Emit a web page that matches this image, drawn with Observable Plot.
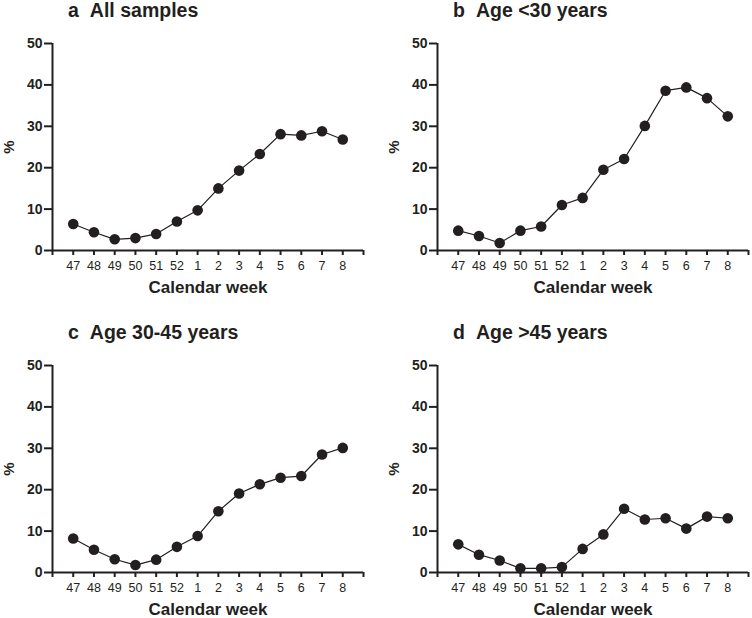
<!DOCTYPE html>
<html>
<head>
<meta charset="utf-8">
<script src="https://cdn.jsdelivr.net/npm/d3@7"></script>
<script src="https://cdn.jsdelivr.net/npm/@observablehq/plot@0.6"></script>
<style>
  html, body { margin: 0; padding: 0; background: #fff; }
  body { width: 752px; height: 618px; position: relative; overflow: hidden; font-family: "Liberation Sans", Arial, sans-serif; }
  .title { position: absolute; font-size: 19.5px; font-weight: bold; line-height: 18px; color: #231f20; white-space: pre; }
  .title .rest { margin-left: 11px; }
  .panel { position: absolute; }
  .panel svg { overflow: visible; }
  .panel g[aria-label="y-axis tick label"] { font-size: 14px; font-weight: bold; }
  .panel g[aria-label="x-axis tick label"] { font-size: 12.5px; }
</style>
</head>
<body>
<script>
const weeks = ["47", "48", "49", "50", "51", "52", "1", "2", "3", "4", "5", "6", "7", "8"];
const allSamples = [6.4, 4.4, 2.7, 3.0, 4.0, 7.0, 9.7, 15.0, 19.3, 23.3, 28.1, 27.8, 28.8, 26.8];
const ageUnder30 = [4.8, 3.5, 1.8, 4.8, 5.8, 11.0, 12.7, 19.5, 22.1, 30.1, 38.6, 39.4, 36.8, 32.4];
const age30to45 = [8.2, 5.5, 3.2, 1.8, 3.1, 6.2, 8.8, 14.8, 19.1, 21.3, 22.9, 23.3, 28.5, 30.1];
const ageOver45 = [6.8, 4.3, 2.9, 1.0, 1.0, 1.3, 5.7, 9.2, 15.4, 12.8, 13.1, 10.6, 13.5, 13.1];
const yTicks = [0, 10, 20, 30, 40, 50];
const panelLetters = ["a", "b", "c", "d"];
const panelTitles = ["All samples", "Age <30 years", "Age 30-45 years", "Age >45 years"];
const series = [allSamples, ageUnder30, age30to45, ageOver45];

const ink = "#231f20";
const font = "Liberation Sans, Arial, sans-serif";
const positions = [
  {left: 0, top: 0}, {left: 385, top: 0},
  {left: 0, top: 322}, {left: 385, top: 322}
];

series.forEach((vals, k) => {
  const pos = positions[k];
  const data = vals.map((v, i) => ({idx: i + 1, week: weeks[i], value: v}));

  const t = document.createElement("div");
  t.className = "title";
  t.style.left = (pos.left + 68) + "px";
  t.style.top = (pos.top + 1) + "px";
  const l = document.createElement("span");
  l.textContent = panelLetters[k];
  const r = document.createElement("span");
  r.className = "rest";
  r.textContent = panelTitles[k];
  t.appendChild(l);
  t.appendChild(r);
  document.body.appendChild(t);

  const chart = Plot.plot({
    width: 367,
    height: 270,
    marginLeft: 52,
    marginRight: 4,
    marginTop: 13,
    marginBottom: 50,
    style: {fontFamily: font, color: ink, background: "transparent", overflow: "visible"},
    x: {type: "linear", domain: [0, weeks.length + 1]},
    y: {type: "linear", domain: [0, 50]},
    marks: [
      Plot.axisX({
        ticks: d3.range(0, weeks.length + 2),
        tickFormat: i => (i >= 1 && i <= weeks.length) ? weeks[i - 1] : "",
        tickSize: 5, tickPadding: 6, strokeWidth: 2, stroke: ink,
        fill: ink, fontSize: 12.5, label: null
      }),
      Plot.axisY({
        ticks: yTicks, tickSize: 8, tickPadding: 2, strokeWidth: 2, stroke: ink,
        fill: ink, fontSize: 14, fontWeight: "bold", label: null
      }),
      Plot.ruleY([0], {stroke: ink, strokeWidth: 2}),
      Plot.ruleX([0], {stroke: ink, strokeWidth: 2}),
      Plot.line(data, {x: "idx", y: "value", stroke: ink, strokeWidth: 1.2}),
      Plot.dot(data, {x: "idx", y: "value", r: 5.3, fill: ink, stroke: "none"}),
      Plot.text(["Calendar week"], {
        frameAnchor: "bottom", dy: 37, lineAnchor: "middle", textAnchor: "middle",
        fontSize: 17, fontWeight: "bold", fill: ink
      }),
      Plot.text(["%"], {
        frameAnchor: "left", dx: -43, rotate: -90, lineAnchor: "middle", textAnchor: "middle",
        fontSize: 15, fontWeight: "bold", fill: ink
      })
    ]
  });

  const wrap = document.createElement("div");
  wrap.className = "panel";
  wrap.style.left = pos.left + "px";
  wrap.style.top = (pos.top + 30) + "px";
  wrap.appendChild(chart);
  document.body.appendChild(wrap);
});
</script>
</body>
</html>
